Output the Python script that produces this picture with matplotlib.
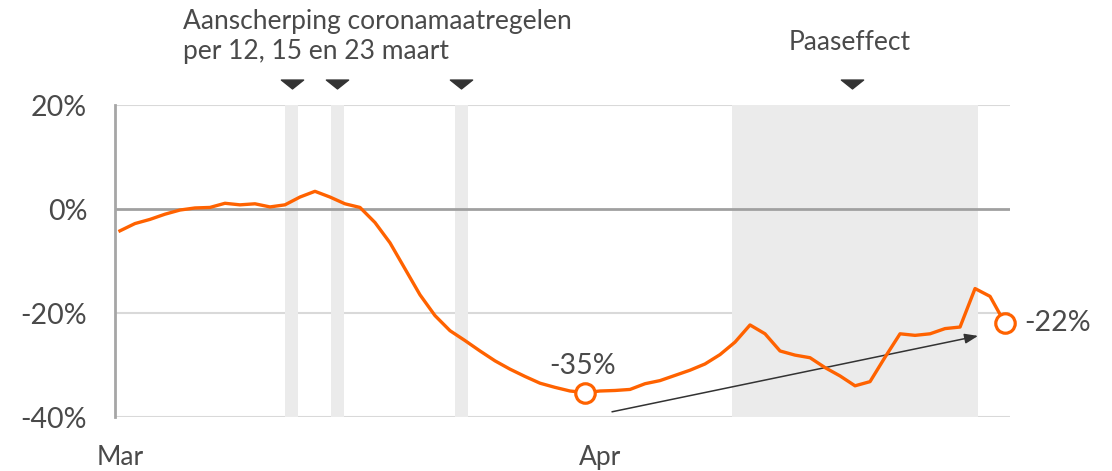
import matplotlib
matplotlib.use("Agg")
import matplotlib.pyplot as plt
from matplotlib.path import Path

# ---- data ----
day_index = list(range(60))  # 1 March .. 29 April
change_pct = [-4.2, -2.8, -2.0, -1.0, -0.2, 0.2, 0.3, 1.1, 0.8, 1.0,
              0.4, 0.8, 2.3, 3.4, 2.3, 1.0, 0.3, -2.6, -6.5, -11.5,
              -16.5, -20.5, -23.4, -25.3, -27.3, -29.2, -30.8, -32.2, -33.5, -34.3,
              -35.0, -35.3, -35.0, -34.9, -34.7, -33.6, -33.0, -32.0, -31.0, -29.8,
              -28.0, -25.6, -22.3, -24.0, -27.3, -28.1, -28.6, -30.5, -32.1, -34.0,
              -33.2, -28.5, -24.0, -24.3, -24.0, -23.0, -22.7, -15.3, -16.8, -22.0]
highlight_idx = [31, 59]
highlight_labels = ["-35%", "-22%"]
measure_days = [11.45, 14.5, 22.75]      # 12, 15 and 23 March
easter_span = (40.8, 57.2)
easter_marker_day = 48.8
x_tick_pos = [0, 32]
x_tick_labels = ["Mar", "Apr"]
y_ticks = [20, 0, -20, -40]
y_tick_labels = ["20%", "0%", "-20%", "-40%"]
trend_start = (32.8, -39.0)
trend_end = (57.2, -24.4)

ORANGE = "#ff6200"
TEXT = "#4a4a4a"
FONT = ["Lato", "DejaVu Sans"]
plt.rcParams["font.family"] = FONT
FS_TEXT = 19
FS_NUM = 20.5

fig = plt.figure(figsize=(11.12, 4.71), dpi=100)
ax = fig.add_axes([115 / 1112, 54 / 471, 895 / 1112, 312 / 471])
ax.set_xlim(-0.33, 59.33)
ax.set_ylim(-40, 20)

# gridlines
for v in [20, -20, -40]:
    ax.axhline(v, color="#d9d9d9", lw=1.5, zorder=0)
ax.axhline(0, color="#a0a0a0", lw=2, zorder=2)

# shaded spans
for d in measure_days:
    ax.axvspan(d - 0.43, d + 0.43, color="#ebebeb", lw=0, zorder=1)
ax.axvspan(*easter_span, color="#ebebeb", lw=0, zorder=1)

# line
ax.plot(day_index, change_pct, color=ORANGE, lw=2.4, zorder=4,
        solid_joinstyle="round", clip_on=False)
ax.plot([day_index[i] for i in highlight_idx], [change_pct[i] for i in highlight_idx],
        ls="none", marker="o", ms=14, mfc="white", mec=ORANGE, mew=2.3, zorder=5,
        clip_on=False)

# labels for highlighted points
ax.annotate(highlight_labels[0], (day_index[31], change_pct[31]), xytext=(-2, 19),
            textcoords="offset points", ha="center", va="center",
            fontsize=FS_NUM, color=TEXT)
ax.annotate(highlight_labels[1], (day_index[59], change_pct[59]), xytext=(14, 0),
            textcoords="offset points", ha="left", va="center",
            fontsize=FS_NUM, color=TEXT)

# trend arrow
ax.annotate("", xy=trend_end, xytext=trend_start,
            arrowprops=dict(arrowstyle="-|>,head_length=0.8,head_width=0.3",
                            color="#333333", lw=1.1, shrinkA=0, shrinkB=0),
            zorder=3)

# triangle markers above the plot
tri = Path([(-1, 0.4), (1, 0.4), (0, -0.4), (-1, 0.4)],
           [Path.MOVETO, Path.LINETO, Path.LINETO, Path.CLOSEPOLY])
ax.plot(measure_days, [24.0] * len(measure_days), ls="none", marker=tri, ms=16,
        color="#333333", clip_on=False, zorder=6)
ax.plot([easter_marker_day], [24.0], ls="none", marker=tri, ms=16,
        color="#333333", clip_on=False, zorder=6)

fig.text(183 / 1112, 1 - 22 / 471, "Aanscherping coronamaatregelen",
         fontsize=FS_TEXT, color=TEXT, ha="left", va="center")
fig.text(183 / 1112, 1 - 52 / 471, "per 12, 15 en 23 maart",
         fontsize=FS_TEXT, color=TEXT, ha="left", va="center")
fig.text(850 / 1112, 1 - 42 / 471, "Paaseffect",
         fontsize=FS_TEXT, color=TEXT, ha="center", va="center")

# axes styling
for s in ["top", "right", "bottom"]:
    ax.spines[s].set_visible(False)
ax.spines["left"].set_color("#a6a6a6")
ax.spines["left"].set_linewidth(2)
ax.set_yticks(y_ticks)
ax.set_yticklabels(y_tick_labels)
ax.set_xticks(x_tick_pos)
ax.set_xticklabels(x_tick_labels)
ax.tick_params(axis="y", length=0, pad=20, labelsize=FS_NUM, labelcolor=TEXT)
ax.tick_params(axis="x", length=0, pad=20, labelsize=FS_TEXT, labelcolor=TEXT)

fig.savefig("out.png", dpi=100)
